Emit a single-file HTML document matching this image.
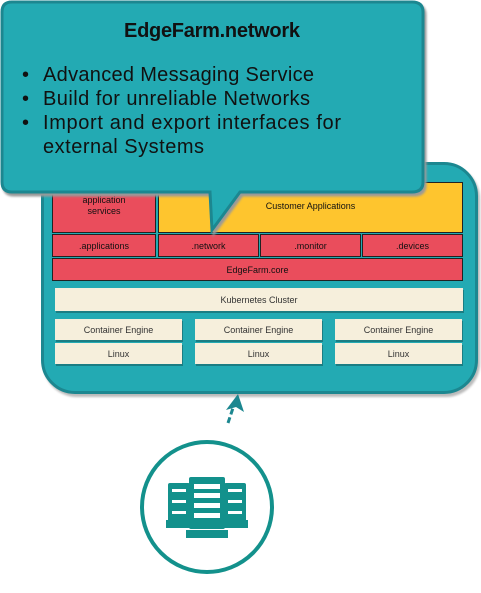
<!DOCTYPE html>
<html><head><style>
body{margin:0;width:481px;height:593px;background:#fff;position:relative;overflow:hidden;font-family:"Liberation Sans",sans-serif}
.a{position:absolute;box-sizing:border-box;display:flex;align-items:center;justify-content:center;text-align:center;font-size:9px;color:#111}
.r{background:#ea4d5c;border:1px solid #222}
.c{background:#f6efdc;box-shadow:1px 2px 0 #1b7d83;color:#333}
</style></head><body>
<div style="position:absolute;left:41px;top:162px;width:437px;height:232px;border-radius:34px;background:#23aab3;border:3px solid #1c8790;box-sizing:border-box;box-shadow:2px 3px 2px #bbb"></div>
<div class="a" style="left:52px;top:182px;width:104px;height:51px;background:#ea4d5c;border:1px solid #222;align-items:flex-start;padding-top:12px;line-height:11px">application<br>services</div>
<div class="a" style="left:158px;top:182px;width:305px;height:51px;background:#fec52e;border:1px solid #222;padding-bottom:4px">Customer Applications</div>
<div class="a r" style="left:52px;top:234px;width:104px;height:23px">.applications</div>
<div class="a r" style="left:158px;top:234px;width:101px;height:23px">.network</div>
<div class="a r" style="left:260px;top:234px;width:101px;height:23px">.monitor</div>
<div class="a r" style="left:362px;top:234px;width:101px;height:23px">.devices</div>
<div class="a r" style="left:52px;top:258px;width:411px;height:23px">EdgeFarm.core</div>
<div class="a c" style="left:55px;top:288px;width:408px;height:23px">Kubernetes Cluster</div>
<div class="a c" style="left:55px;top:319px;width:127px;height:21px">Container Engine</div>
<div class="a c" style="left:55px;top:343px;width:127px;height:21px">Linux</div>
<div class="a c" style="left:195px;top:319px;width:127px;height:21px">Container Engine</div>
<div class="a c" style="left:195px;top:343px;width:127px;height:21px">Linux</div>
<div class="a c" style="left:335px;top:319px;width:127px;height:21px">Container Engine</div>
<div class="a c" style="left:335px;top:343px;width:127px;height:21px">Linux</div>
<svg style="position:absolute;left:0;top:0" width="481" height="593">
<path d="M12 2 H412 Q423 2 423 12 V182 Q423 192 412 192 H240 L212 230 L210 192 H12 Q2 192 2 182 V12 Q2 2 12 2 Z" fill="#23aab3" stroke="#1c8790" stroke-width="3" style="filter:drop-shadow(2px 3px 1px #999)"/>
<text x="212" y="37" font-size="20" font-weight="bold" text-anchor="middle" fill="#111" font-family="Liberation Sans" textLength="176">EdgeFarm.network</text>
<g font-size="20" fill="#111" font-family="Liberation Sans">
<text x="22" y="81">•</text><text x="43" y="81" textLength="271">Advanced Messaging Service</text>
<text x="22" y="105">•</text><text x="43" y="105" textLength="267">Build for unreliable Networks</text>
<text x="22" y="129">•</text><text x="43" y="129" textLength="298">Import and export interfaces for</text>
<text x="43" y="153" textLength="161">external Systems</text>
</g>
<line x1="228" y1="423" x2="234" y2="405" stroke="#1c8790" stroke-width="3" stroke-dasharray="6 3"/>
<path d="M238 394 L244 412 L236 407 L226 410 Z" fill="#1c8790"/>
<circle cx="207" cy="507" r="65" fill="#fff" stroke="#13918c" stroke-width="4"/>
<g fill="#13918c">
<rect x="168" y="483" width="22" height="44" rx="2"/>
<rect x="224" y="483" width="22" height="44" rx="2"/>
<rect x="166" y="520" width="82" height="8"/>
<rect x="189" y="477" width="36" height="52" rx="2"/>
<rect x="186" y="530" width="42" height="8"/>
</g>
<g fill="#fff">
<rect x="194" y="484" width="26" height="5"/><rect x="194" y="493" width="26" height="5"/><rect x="194" y="503" width="26" height="5"/><rect x="194" y="513" width="26" height="5"/>
<rect x="172" y="489" width="14" height="3"/><rect x="172" y="500" width="14" height="3"/><rect x="172" y="511" width="14" height="3"/>
<rect x="228" y="489" width="14" height="3"/><rect x="228" y="500" width="14" height="3"/><rect x="228" y="511" width="14" height="3"/>
</g>
</svg>
</body></html>
